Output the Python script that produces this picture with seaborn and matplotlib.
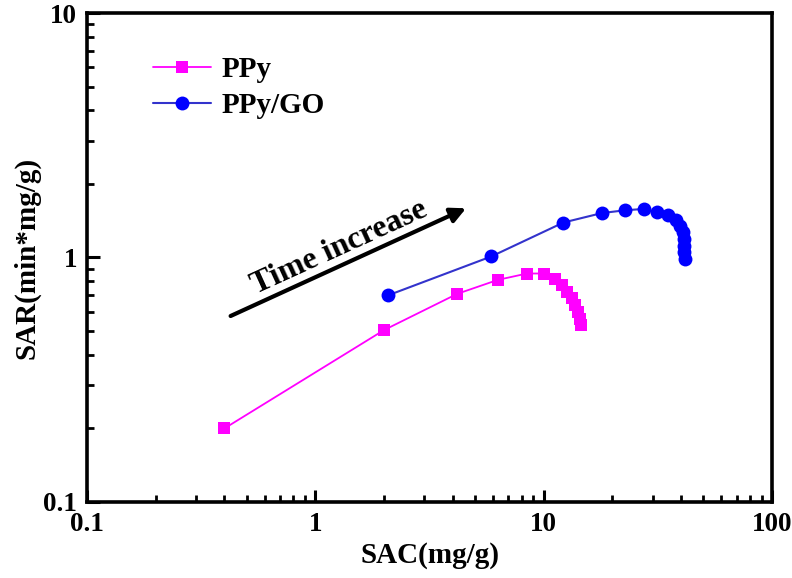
import numpy as np
import pandas as pd
import seaborn as sns
import matplotlib.pyplot as plt
from matplotlib.ticker import FixedLocator, LogLocator, NullFormatter

# values (log-log)
ppy_sac = [0.4, 2.0, 4.18, 6.3, 8.45, 10.0, 11.2, 12.0, 12.7, 13.3, 13.7, 14.2, 14.4, 14.6]
ppy_sar = [0.20, 0.505, 0.71, 0.81, 0.86, 0.86, 0.82, 0.77, 0.72, 0.68, 0.64, 0.60, 0.56, 0.53]

go_sac = [2.08, 5.9, 12.2, 18.0, 22.7, 27.5, 31.4, 35.1, 38.0, 39.6, 40.8, 41.0, 41.2, 41.3, 41.6]
go_sar = [0.70, 1.01, 1.39, 1.52, 1.56, 1.58, 1.53, 1.49, 1.43, 1.34, 1.27, 1.19, 1.11, 1.05, 0.99]

x_ticks = [0.1, 1, 10, 100]
x_tick_labels = ["0.1", "1", "10", "100"]
y_ticks = [0.1, 1, 10]
y_tick_labels = ["0.1", "1", "10"]

ppy = pd.DataFrame({"SAC": ppy_sac, "SAR": ppy_sar})
go = pd.DataFrame({"SAC": go_sac, "SAR": go_sar})

sns.set_style("white")
plt.rcParams["font.family"] = ["Liberation Serif", "DejaVu Serif"]
plt.rcParams["font.weight"] = "bold"
for k in ["text.color", "axes.labelcolor", "xtick.color", "ytick.color"]:
    plt.rcParams[k] = "black"

fig = plt.figure(figsize=(7.92, 5.78), dpi=100)
ax = fig.add_axes([0.1098, 0.1315, 0.865, 0.846])

sns.lineplot(data=ppy, x="SAC", y="SAR", ax=ax, sort=False, estimator=None,
             color="#ff00ff", lw=1.3, marker="s", markersize=8.5,
             markeredgewidth=0, label="PPy")
sns.lineplot(data=go, x="SAC", y="SAR", ax=ax, sort=False, estimator=None,
             color="#3333cc", lw=1.5, marker="o", markersize=10,
             markerfacecolor="#0000ff", markeredgewidth=0, label="PPy/GO")

ax.set_xscale("log")
ax.set_yscale("log")
ax.set_xlim(0.1, 100)
ax.set_ylim(0.1, 10)

ax.xaxis.set_major_locator(FixedLocator(x_ticks))
ax.set_xticklabels(x_tick_labels)
ax.yaxis.set_major_locator(FixedLocator(y_ticks))
ax.set_yticklabels(y_tick_labels)
ax.xaxis.set_minor_locator(LogLocator(base=10, subs=np.arange(2, 10)))
ax.yaxis.set_minor_locator(LogLocator(base=10, subs=np.arange(2, 10)))
ax.xaxis.set_minor_formatter(NullFormatter())
ax.yaxis.set_minor_formatter(NullFormatter())

ax.tick_params(which="major", direction="in", length=9, width=2.2,
               labelsize=19.5, pad=7, bottom=True, left=True, top=False, right=False)
ax.tick_params(which="minor", direction="in", length=5, width=2,
               bottom=True, left=True, top=False, right=False)
for s in ax.spines.values():
    s.set_linewidth(2.6)
    s.set_color("black")

ax.set_xlabel("SAC(mg/g)", fontsize=21, fontweight="bold", labelpad=4)
ax.set_ylabel("SAR(min*mg/g)", fontsize=21, fontweight="bold", labelpad=2)

leg = ax.legend(loc="upper left", bbox_to_anchor=(0.079, 0.935), frameon=False,
                fontsize=21, handlelength=2.0, handletextpad=0.35,
                labelspacing=0.3, borderaxespad=0)
for t in leg.get_texts():
    t.set_fontweight("bold")

ax.annotate("", xy=(0.557, 0.603), xytext=(0.206, 0.378),
            xycoords="axes fraction", textcoords="axes fraction",
            arrowprops=dict(arrowstyle="-|>,head_length=0.9,head_width=0.45",
                            color="black", lw=3))
ax.text(0.368, 0.520, "Time increase", transform=ax.transAxes, rotation=24.5,
        ha="center", va="center", fontsize=23, fontweight="bold",
        rotation_mode="anchor")

fig.savefig("out.png", dpi=100, facecolor="white")
